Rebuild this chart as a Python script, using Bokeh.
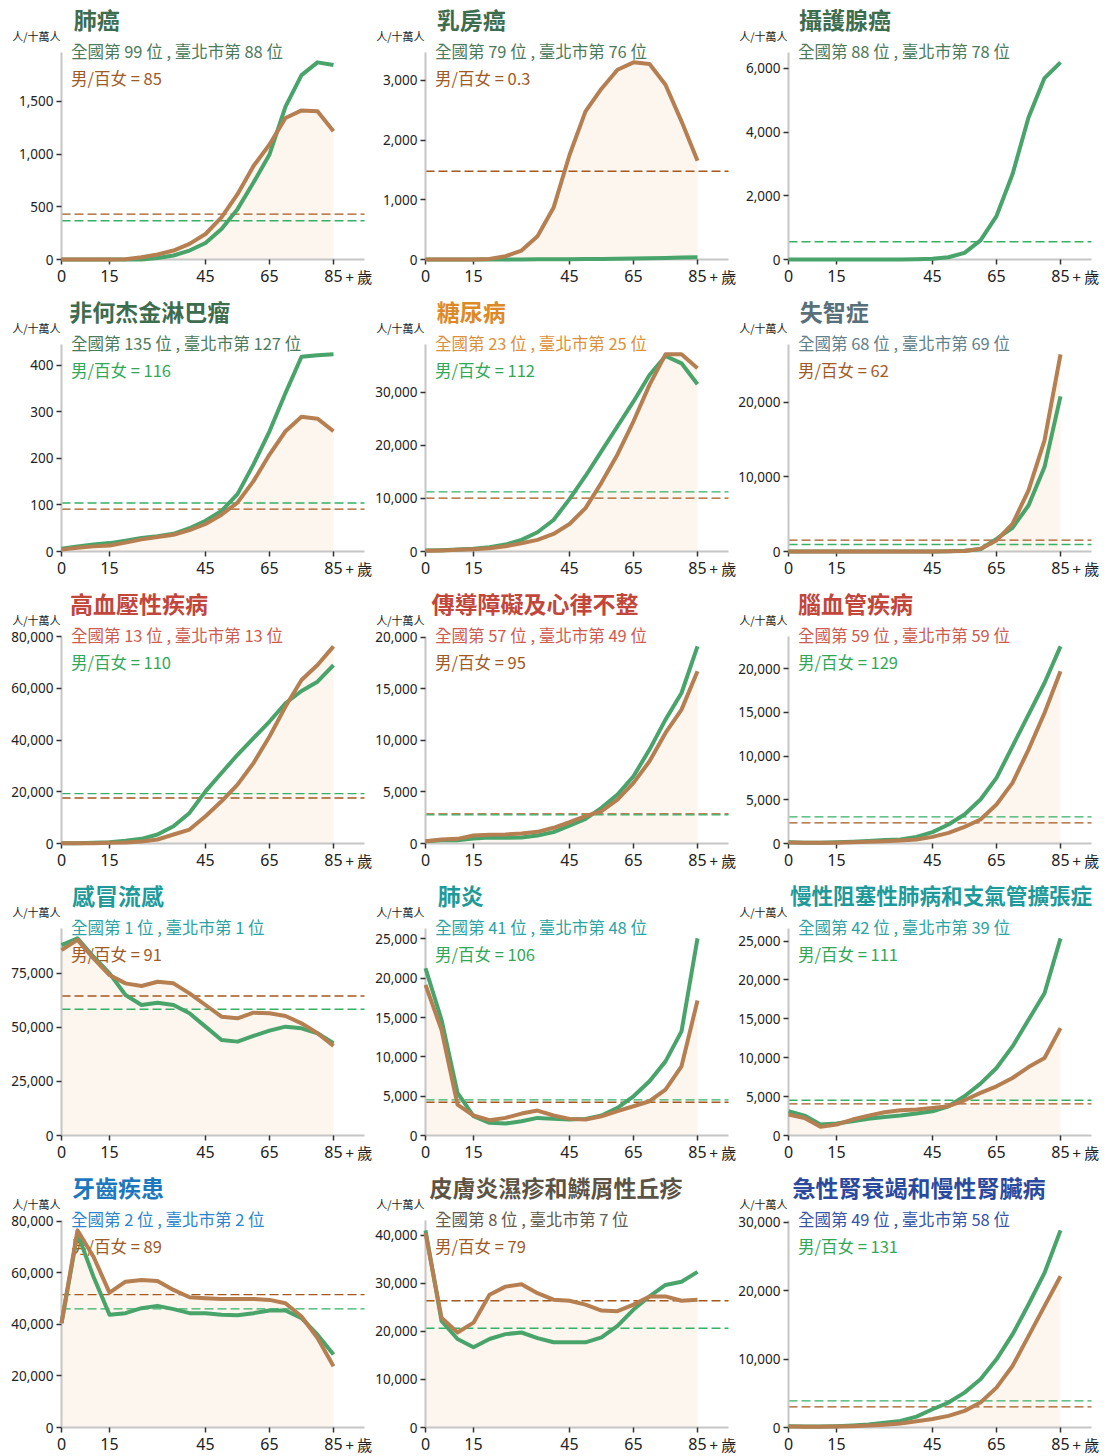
from bokeh.plotting import figure
from bokeh.layouts import gridplot
from bokeh.models import (Label, Range1d, FixedTicker, SingleIntervalTicker,
                          NumeralTickFormatter, LinearAxis)
from bokeh.embed import file_html
from bokeh.resources import INLINE

# Age groups (5-year bands, 85 = 85+)
ages = [0, 5, 10, 15, 20, 25, 30, 35, 40, 45, 50, 55, 60, 65, 70, 75, 80, 85]
age_ticks = [0, 15, 45, 65, 85]

titles = ["肺癌", "乳房癌", "攝護腺癌",
          "非何杰金淋巴瘤", "糖尿病", "失智症",
          "高血壓性疾病", "傳導障礙及心律不整", "腦血管疾病",
          "感冒流感", "肺炎", "慢性阻塞性肺病和支氣管擴張症",
          "牙齒疾患", "皮膚炎濕疹和鱗屑性丘疹", "急性腎衰竭和慢性腎臟病"]
national_rank = [99, 79, 88, 135, 23, 68, 13, 57, 59, 1, 41, 42, 2, 8, 49]
taipei_rank = [88, 76, 78, 127, 25, 69, 13, 49, 59, 1, 48, 39, 2, 7, 58]
sex_ratio = [85, 0.3, None, 116, 112, 62, 110, 95, 129, 91, 106, 111, 89, 79, 131]

# Rates per 100,000 by age group (male / female)
lung_m = [0, 0, 0, 0, 0, 0, 15, 38, 85, 157, 290, 478, 730, 997, 1450, 1750, 1871, 1846]
lung_f = [0, 0, 0, 0, 2, 22, 47, 85, 148, 242, 400, 620, 887, 1091, 1343, 1415, 1406, 1217]
breast_m = [0, 0, 0, 0, 0, 1, 2, 3, 4, 6, 8, 10, 14, 18, 22, 27, 32, 38]
breast_f = [0, 0, 0, 2, 10, 56, 150, 390, 865, 1750, 2482, 2861, 3179, 3302, 3274, 2928, 2314, 1656]
prostate_m = [0, 0, 0, 0, 0, 0, 0, 0, 5, 20, 70, 210, 600, 1364, 2675, 4458, 5696, 6189]
nhl_m = [6, 11, 15, 18, 23, 29, 33, 38, 50, 66, 87, 123, 187, 258, 340, 418, 421, 423]
nhl_f = [4, 8, 11, 13, 19, 26, 31, 36, 46, 59, 79, 105, 151, 208, 258, 289, 285, 258]
diabetes_m = [190, 250, 375, 500, 810, 1310, 2190, 3625, 5940, 9875, 14250, 18940, 23625, 28310, 33310, 36875, 35500, 31560]
diabetes_f = [125, 190, 310, 440, 625, 1000, 1560, 2190, 3310, 5190, 8190, 13000, 18310, 24560, 31440, 37190, 37190, 34560]
dementia_m = [0, 0, 0, 0, 0, 0, 0, 0, 0, 10, 30, 100, 300, 1700, 3180, 6170, 11320, 20800]
dementia_f = [0, 0, 0, 0, 0, 0, 0, 0, 0, 0, 20, 80, 360, 1480, 3710, 8190, 14900, 26440]
hypertension_m = [130, 130, 260, 510, 1030, 1800, 3470, 6690, 11830, 20190, 27270, 34340, 40770, 47200, 54280, 59035, 62640, 69070]
hypertension_f = [60, 130, 130, 260, 390, 770, 1540, 3470, 5400, 10550, 16330, 22770, 31125, 41415, 52990, 63280, 69070, 76300]
arrhythmia_m = [225, 320, 320, 480, 580, 550, 580, 770, 1100, 1740, 2390, 3450, 4740, 6520, 9100, 12000, 14580, 19100]
arrhythmia_f = [225, 390, 450, 770, 840, 870, 970, 1130, 1520, 2060, 2650, 3130, 4260, 5870, 7970, 10710, 12970, 16680]
stroke_m = [150, 100, 100, 130, 200, 300, 400, 460, 760, 1300, 2170, 3310, 5030, 7500, 11120, 14740, 18360, 22550]
stroke_f = [120, 80, 80, 100, 150, 200, 270, 350, 460, 760, 1220, 1900, 2740, 4460, 6930, 10740, 14930, 19700]
flu_m = [88090, 91200, 82700, 75000, 65000, 60370, 61450, 60370, 56520, 50360, 44200, 43430, 46050, 48510, 50360, 49590, 47280, 42660]
flu_f = [85780, 90500, 81930, 74230, 70380, 69150, 71150, 70380, 65760, 60370, 54980, 54210, 56830, 56520, 55290, 51900, 47280, 41430]
pneumonia_m = [21280, 14720, 5415, 2450, 1610, 1520, 1820, 2240, 2115, 2030, 2115, 2540, 3510, 4990, 6900, 9430, 13240, 25080]
pneumonia_f = [19160, 13450, 3930, 2540, 1950, 2240, 2790, 3170, 2540, 2115, 2030, 2450, 3090, 3720, 4360, 5840, 8800, 17170]
copd_m = [3120, 2560, 1410, 1540, 1840, 2140, 2390, 2560, 2820, 3120, 3760, 5040, 6670, 8680, 11450, 14870, 18290, 25340]
copd_f = [2690, 2260, 1110, 1410, 2050, 2560, 2990, 3250, 3330, 3550, 3760, 4530, 5470, 6320, 7390, 8800, 9960, 13800]
dental_m = [40510, 75240, 58520, 43730, 44370, 46300, 47200, 45920, 44370, 44370, 43730, 43600, 44370, 45400, 45400, 42440, 36010, 28300]
dental_f = [40510, 76500, 66240, 52350, 56590, 57230, 56850, 53380, 50550, 50160, 49900, 49900, 49900, 49520, 48230, 43090, 34730, 23790]
dermatitis_m = [41000, 22150, 18400, 16700, 18400, 19420, 19760, 18600, 17720, 17720, 17720, 18740, 21120, 24530, 27260, 29640, 30320, 32370]
dermatitis_f = [40500, 22830, 19760, 21810, 27600, 29300, 29780, 27940, 26580, 26370, 25550, 24330, 24190, 25550, 27260, 27260, 26370, 26580]
kidney_m = [200, 150, 150, 200, 300, 450, 700, 970, 1600, 2670, 3650, 5100, 7050, 9970, 13610, 17990, 22600, 28830]
kidney_f = [150, 100, 100, 150, 200, 280, 400, 600, 900, 1250, 1700, 2430, 3650, 5830, 9000, 13370, 17750, 22120]

male_series = [lung_m, breast_m, prostate_m, nhl_m, diabetes_m, dementia_m,
               hypertension_m, arrhythmia_m, stroke_m, flu_m, pneumonia_m, copd_m,
               dental_m, dermatitis_m, kidney_m]
female_series = [lung_f, breast_f, None, nhl_f, diabetes_f, dementia_f,
                 hypertension_f, arrhythmia_f, stroke_f, flu_f, pneumonia_f, copd_f,
                 dental_f, dermatitis_f, kidney_f]

# Overall (all ages) rates per 100,000
avg_m = [368, None, 556, 104, 11250, 940, 19290, 2770, 3050, 58370, 4530, 4530, 46040, 20650, 3890]
avg_f = [431, 1478, None, 91, 10060, 1520, 17620, 2870, 2360, 64530, 4230, 4060, 51580, 26370, 3010]

# Styling
tick_step = [500, 1000, 2000, 100, 10000, 10000, 20000, 5000, 5000, 25000, 5000, 5000, 20000, 10000, 10000]
title_colors = ["#3e6c4f", "#3e6c4f", "#3e6c4f",
                "#3e6c4f", "#dd8a26", "#587079",
                "#c2463c", "#c2463c", "#c2463c",
                "#1e9a9a", "#1e9a9a", "#1e9a9a",
                "#1e78c0", "#5c5344", "#2b4a9d"]
sub_colors = ["#4c7a5c", "#4c7a5c", "#4c7a5c",
              "#4c7a5c", "#dc9038", "#62808b",
              "#cf5a50", "#cf5a50", "#cf5a50",
              "#2aa3a3", "#2aa3a3", "#2aa3a3",
              "#2a86cc", "#615a4d", "#3554a8"]

GREEN_LINE = "#48a46a"
BROWN_LINE = "#b57f51"
GREEN_DASH = "#35b065"
BROWN_DASH = "#a4581f"
GREEN_TEXT = "#2fa858"
BROWN_TEXT = "#a05a26"
FILL = "#fdf6ee"
CJK = "Noto Sans CJK TC"

# panel geometry (pixels)
PLOT_W = 303          # width of the data area
PLOT_H = 207          # height of the data area
TOP = 52              # space above the data area
PX_PER_YEAR = 3.2
X_END = PLOT_W / PX_PER_YEAR
COL_LEFT = [61, 52, 51]    # space left of the y axis, per column
COL_RIGHT = [9, 9, 12]     # space right of the data area, per column


def make_panel(i):
    col = i % 3
    last_row = i >= 12
    left, right = COL_LEFT[col], COL_RIGHT[col]
    bottom = 29 if last_row else 33
    width = left + PLOT_W + right
    height = TOP + PLOT_H + bottom

    male = male_series[i]
    female = female_series[i]
    ymax = 1.05 * max(male + (female or []))
    per_px_y = ymax / PLOT_H

    p = figure(width=width, height=height,
               x_range=Range1d(-left / PX_PER_YEAR, X_END + right / PX_PER_YEAR),
               y_range=Range1d(-bottom * per_px_y, ymax + TOP * per_px_y),
               x_axis_location=None, y_axis_location=None,
               output_backend="svg", toolbar_location=None,
               min_border=0, outline_line_color=None,
               background_fill_color="white", border_fill_color="white")
    p.grid.visible = False

    if female:
        p.varea(x=ages, y1=0, y2=female, fill_color=FILL)
    if avg_f[i] is not None:
        p.segment(x0=0, x1=X_END, y0=avg_f[i], y1=avg_f[i],
                  line_color=BROWN_DASH, line_width=1.4, line_dash="9 4")
    if avg_m[i] is not None:
        p.segment(x0=0, x1=X_END, y0=avg_m[i], y1=avg_m[i],
                  line_color=GREEN_DASH, line_width=1.4, line_dash="9 4")
    # age curves are drawn over the panel texts
    p.line(ages, male, line_color=GREEN_LINE, line_width=4, line_join="round",
           level="overlay")
    if female:
        p.line(ages, female, line_color=BROWN_LINE, line_width=4, line_join="round",
               level="overlay")

    xaxis = LinearAxis(fixed_location=0, bounds=(0, X_END),
                       ticker=FixedTicker(ticks=age_ticks))
    yaxis = LinearAxis(fixed_location=0, bounds=(0, ymax),
                       ticker=SingleIntervalTicker(interval=tick_step[i], num_minor_ticks=0),
                       formatter=NumeralTickFormatter(format="0,0"))
    for ax in (xaxis, yaxis):
        ax.axis_line_color = "#c6c6c6"
        ax.axis_line_width = 2
        ax.major_tick_line_color = "#333333"
        ax.major_tick_line_width = 1.5
        ax.major_tick_out = 5
        ax.major_tick_in = 0
        ax.minor_tick_line_color = None
        ax.major_label_text_color = "#222222"
        ax.major_label_text_font = "Noto Sans"
    xaxis.major_label_text_font_size = "16px"
    xaxis.major_label_standoff = 5
    yaxis.major_label_text_font_size = "13.5px"
    yaxis.major_label_standoff = 3
    p.add_layout(xaxis, "below")
    p.add_layout(yaxis, "left")

    def add_text(dx, from_top, text, size, color, align="left", bold=False):
        p.add_layout(Label(x=left + dx, y=height - from_top,
                           x_units="screen", y_units="screen", text=text,
                           text_font=CJK, text_font_size=size, text_color=color,
                           text_align=align, text_baseline="middle",
                           text_font_style="bold" if bold else "normal"))

    n = len(titles[i])
    title_size = min(23, 302 / n)
    add_text(14 - 0.9 * n, 18, titles[i], f"{title_size:.1f}px", title_colors[i], bold=True)
    add_text(-1, 35, "人/十萬人", "11px", "#222222", align="right")
    add_text(9.5, 50, f"全國第 {national_rank[i]} 位 , 臺北市第 {taipei_rank[i]} 位",
             "16.5px", sub_colors[i])
    if sex_ratio[i] is not None:
        ratio_color = GREEN_TEXT if sex_ratio[i] >= 100 else BROWN_TEXT
        add_text(9.5, 77, f"男/百女 = {sex_ratio[i]}", "16.5px", ratio_color)
    add_text(PX_PER_YEAR * 85 + 12, TOP + PLOT_H + 17, "+ 歲", "15px", "#222222")
    return p


figs = [make_panel(i) for i in range(15)]
grid = gridplot(figs, ncols=3, toolbar_location=None)

open("out.html", "w").write(file_html(grid, INLINE))
